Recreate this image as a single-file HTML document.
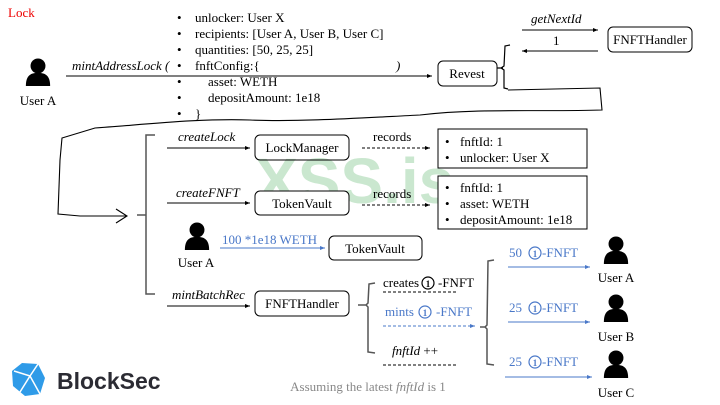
<!DOCTYPE html>
<html><head><meta charset="utf-8"><style>
html,body{margin:0;padding:0;background:#fff;width:720px;height:405px;overflow:hidden}
svg text{font-family:"Liberation Serif",serif}
</style></head><body>
<svg width="720" height="405" viewBox="0 0 720 405" xmlns="http://www.w3.org/2000/svg" font-family="Liberation Serif, serif">
<defs>
<marker id="a" markerWidth="6" markerHeight="6" refX="5" refY="3" orient="auto"><path d="M0,1 L5,3 L0,5z" fill="#000"/></marker>
<marker id="b" markerWidth="6" markerHeight="6" refX="5" refY="3" orient="auto"><path d="M0,1 L5,3 L0,5z" fill="#4a78c8"/></marker>
<symbol id="u" viewBox="0 0 30 30"><circle cx="15" cy="8.5" r="8" fill="#000"/><path d="M2,30 C2,18 8,16 15,16 C22,16 28,18 28,30z" fill="#000"/></symbol>
</defs>
<text x="255" y="203" font-weight="bold" font-size="64" fill="#7cc58a" opacity="0.4" style="font-family:'Liberation Sans',sans-serif">XSS.is</text>
<text x="8" y="17" font-size="13" fill="#e00">Lock</text>
<use href="#u" x="24" y="58" width="28" height="28"/>
<text x="38" y="105" font-size="13" text-anchor="middle">User A</text>
<text x="72" y="70" font-size="13" font-style="italic">mintAddressLock (</text>
<line x1="66" y1="76" x2="432" y2="76" stroke="#000" marker-end="url(#a)"/>
<g font-size="13">
<text x="177" y="22">•</text><text x="195" y="22">unlocker: User X</text>
<text x="177" y="38">•</text><text x="195" y="38">recipients:  [User A, User B, User C]</text>
<text x="177" y="54">•</text><text x="195" y="54">quantities: [50, 25, 25]</text>
<text x="177" y="70">•</text><text x="195" y="70">fnftConfig:{</text>
<text x="177" y="86">•</text><text x="208" y="86">asset: WETH</text>
<text x="177" y="102">•</text><text x="208" y="102">depositAmount: 1e18</text>
<text x="177" y="118">•</text><text x="195" y="118">}</text>
<text x="396" y="70" font-style="italic">)</text>
</g>
<rect x="438" y="61" width="59" height="25" rx="5" fill="#fff" stroke="#000"/>
<text x="467" y="78" font-size="13" text-anchor="middle">Revest</text>
<path d="M497,68 L503,68 M510,45 L505,46 L504,66 L501,68 L504,70 L504,88 L508,89" fill="none" stroke="#000" stroke-width="1.2"/>
<text x="531" y="23" font-size="13" font-style="italic">getNextId</text>
<line x1="522" y1="30" x2="598" y2="30" stroke="#000" marker-end="url(#a)"/>
<text x="553" y="45" font-size="13">1</text>
<line x1="598" y1="51" x2="522" y2="51" stroke="#000" marker-end="url(#a)"/>
<rect x="608" y="27" width="84" height="25" rx="5" fill="#fff" stroke="#000"/>
<text x="650" y="44" font-size="13" text-anchor="middle">FNFTHandler</text>
<path d="M508,90 L600,88 L602,110 C540,112 480,108 420,115 C360,118 300,122 250,120 C200,118 140,125 95,128 L62,138 L60,160 L58,214 L80,216 L126,216" fill="none" stroke="#000" stroke-width="1.1"/>
<path d="M116,209 L127,216 L116,223" fill="none" stroke="#000" stroke-width="1.1"/>
<path d="M155,135 L146,135 L146,294 L155,294 M137,215 L146,215" fill="none" stroke="#555" stroke-width="1.5"/>
<text x="178" y="141" font-size="13" font-style="italic">createLock</text>
<line x1="167" y1="148" x2="250" y2="148" stroke="#000" marker-end="url(#a)"/>
<rect x="255" y="135" width="94" height="25" rx="5" fill="none" stroke="#000"/>
<text x="302" y="152" font-size="13" text-anchor="middle">LockManager</text>
<text x="373" y="141" font-size="13">records</text>
<line x1="362" y1="148" x2="430" y2="148" stroke="#000" stroke-dasharray="3,2" marker-end="url(#a)"/>
<rect x="438" y="129" width="149" height="39" fill="none" stroke="#000"/>
<text x="445" y="146" font-size="13">•</text><text x="460" y="146" font-size="13">fnftId: 1</text>
<text x="445" y="162" font-size="13">•</text><text x="460" y="162" font-size="13">unlocker: User X</text>
<text x="176" y="197" font-size="13" font-style="italic">createFNFT</text>
<line x1="167" y1="203" x2="250" y2="203" stroke="#000" marker-end="url(#a)"/>
<rect x="255" y="191" width="94" height="24" rx="5" fill="#fff" stroke="#000"/>
<text x="302" y="208" font-size="13" text-anchor="middle">TokenVault</text>
<text x="373" y="198" font-size="13">records</text>
<line x1="362" y1="205" x2="430" y2="205" stroke="#000" stroke-dasharray="3,2" marker-end="url(#a)"/>
<rect x="438" y="176" width="149" height="53" fill="#fff" stroke="#000"/>
<text x="445" y="192" font-size="13">•</text><text x="460" y="192" font-size="13">fnftId: 1</text>
<text x="445" y="208" font-size="13">•</text><text x="460" y="208" font-size="13">asset: WETH</text>
<text x="445" y="224" font-size="13">•</text><text x="460" y="224" font-size="13">depositAmount: 1e18</text>
<use href="#u" x="183" y="222" width="28" height="28"/>
<text x="196" y="267" font-size="13" text-anchor="middle">User A</text>
<text x="222" y="244" font-size="13" fill="#4a78c8">100 *1e18 WETH</text>
<line x1="220" y1="248" x2="325" y2="248" stroke="#4a78c8" marker-end="url(#b)"/>
<rect x="329" y="236" width="93" height="24" rx="5" fill="#fff" stroke="#000"/>
<text x="375" y="253" font-size="13" text-anchor="middle">TokenVault</text>
<text x="172" y="299" font-size="13" font-style="italic">mintBatchRec</text>
<line x1="167" y1="306" x2="250" y2="306" stroke="#000" marker-end="url(#a)"/>
<rect x="255" y="291" width="94" height="25" rx="5" fill="#fff" stroke="#000"/>
<text x="302" y="308" font-size="13" text-anchor="middle">FNFTHandler</text>
<path d="M358,305 L366,305 M375,283 L369,284 L368,303 L366,305 L368,307 L368,352 L375,353" fill="none" stroke="#555" stroke-width="1.5"/>
<text x="383" y="287" font-size="13">creates</text>
<circle cx="428" cy="283" r="6" fill="none" stroke="#000" stroke-width="1.2"/><text x="428" y="287" font-size="9" text-anchor="middle" font-weight="bold">1</text>
<text x="438" y="287" font-size="13">-FNFT</text>
<line x1="383" y1="292" x2="457" y2="292" stroke="#000" stroke-dasharray="3,2"/>
<text x="385" y="316" font-size="13" fill="#4a78c8">mints</text>
<circle cx="425" cy="312" r="6" fill="none" stroke="#4a78c8" stroke-width="1.2"/><text x="425" y="316" font-size="9" fill="#4a78c8" text-anchor="middle" font-weight="bold">1</text>
<text x="436" y="316" font-size="13" fill="#4a78c8">-FNFT</text>
<line x1="383" y1="326" x2="475" y2="326" stroke="#4a78c8" stroke-dasharray="3,2" marker-end="url(#b)"/>
<text x="392" y="355" font-size="13"><tspan font-style="italic">fnftId</tspan> ++</text>
<line x1="383" y1="365" x2="457" y2="365" stroke="#000" stroke-dasharray="3,2"/>
<path d="M480,327 L486,327 M494,260 L488,261 L487,325 L485,327 L487,329 L487,364 L494,365" fill="none" stroke="#555" stroke-width="1.5"/>
<g fill="#4a78c8" font-size="13">
<text x="509" y="257">50</text><circle cx="535" cy="253" r="6" fill="none" stroke="#4a78c8" stroke-width="1.2"/><text x="535" y="257" font-size="9" text-anchor="middle" font-weight="bold">1</text><text x="542" y="257">-FNFT</text>
<text x="509" y="312">25</text><circle cx="535" cy="308" r="6" fill="none" stroke="#4a78c8" stroke-width="1.2"/><text x="535" y="312" font-size="9" text-anchor="middle" font-weight="bold">1</text><text x="542" y="312">-FNFT</text>
<text x="509" y="366">25</text><circle cx="535" cy="362" r="6" fill="none" stroke="#4a78c8" stroke-width="1.2"/><text x="535" y="366" font-size="9" text-anchor="middle" font-weight="bold">1</text><text x="542" y="366">-FNFT</text>
</g>
<line x1="508" y1="267" x2="590" y2="267" stroke="#4a78c8" marker-end="url(#b)"/>
<line x1="508" y1="322" x2="590" y2="322" stroke="#4a78c8" marker-end="url(#b)"/>
<line x1="505" y1="377" x2="592" y2="377" stroke="#4a78c8" marker-end="url(#b)"/>
<use href="#u" x="602" y="236" width="28" height="28"/>
<text x="616" y="282" font-size="13" text-anchor="middle">User A</text>
<use href="#u" x="602" y="294" width="28" height="28"/>
<text x="616" y="341" font-size="13" text-anchor="middle">User B</text>
<use href="#u" x="602" y="350" width="28" height="28"/>
<text x="616" y="397" font-size="13" text-anchor="middle">User C</text>
<text x="368" y="391" font-size="13" fill="#888" text-anchor="middle">Assuming the latest <tspan font-style="italic">fnftId</tspan> is 1</text>
<path d="M22,363 L38,364 L45,378 L40,394 L25,396 L13,386 L12,371z" fill="#2f9be8"/>
<path d="M14,371 L30,376 L38,364 M30,376 L40,394 M30,376 L20,392" stroke="#fff" stroke-width="1.5" fill="none"/>
<text x="57" y="389" font-size="23" font-weight="bold" fill="#2b2b33" style="font-family:'Liberation Sans',sans-serif">BlockSec</text>
</svg>
</body></html>
